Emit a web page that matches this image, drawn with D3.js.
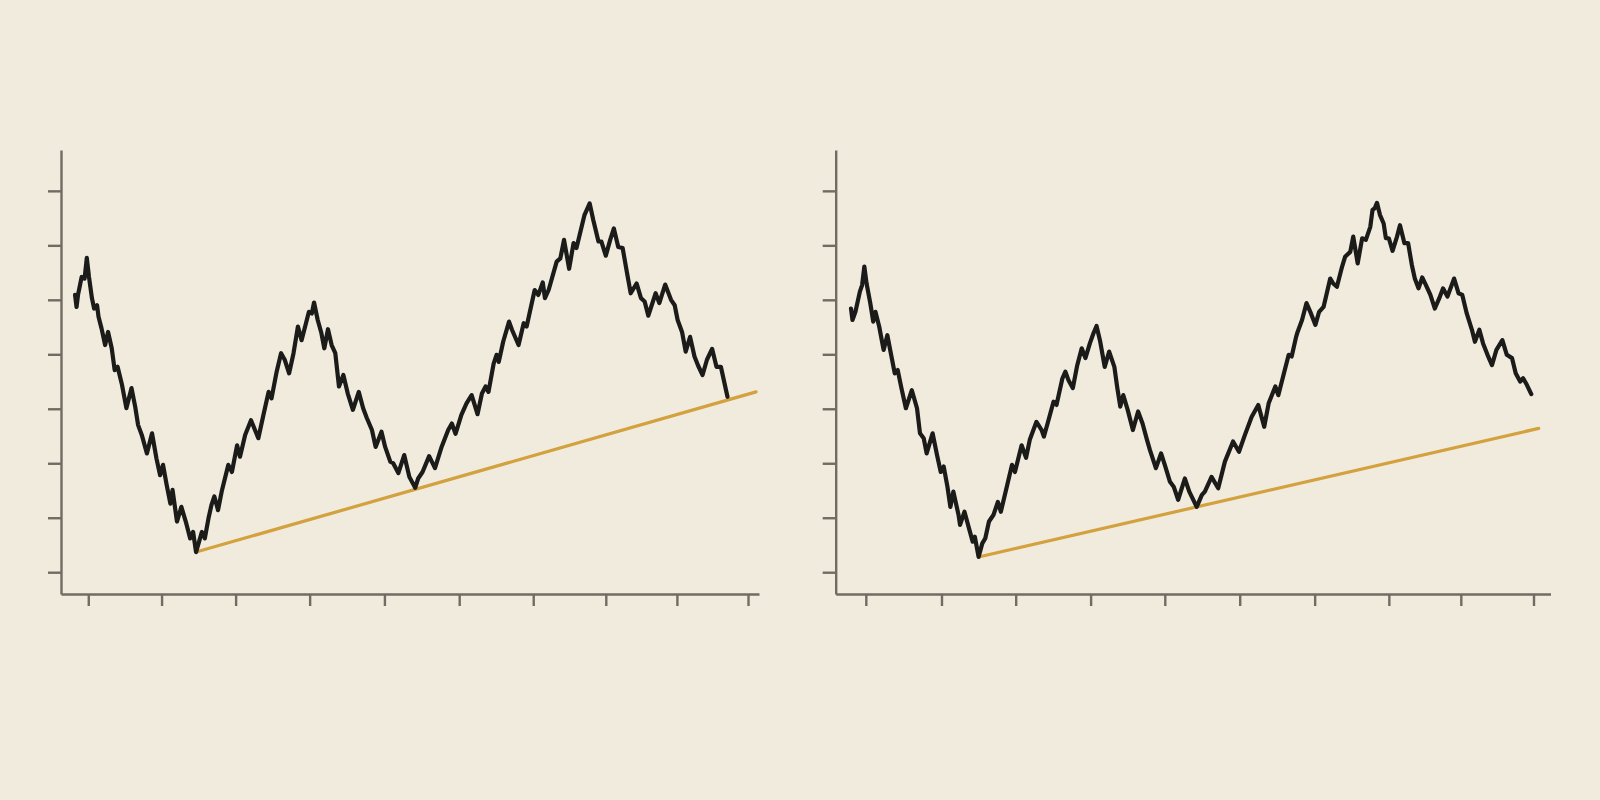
<!DOCTYPE html>
<html>
<head>
<meta charset="utf-8">
<script src="https://cdn.jsdelivr.net/npm/d3@7"></script>
<style>
  html, body { margin: 0; padding: 0; background: #f1ebde; }
  svg { display: block; }
</style>
</head>
<body>
<svg id="chart" width="1600" height="800"></svg>
<script>
// ---- data (x: time units, y: price units) ----
const leftPath = [[-1.8,70.9],[-1.6,68.7],[-1.4,70.9],[-0.9,74.2],[-0.5,73.9],[-0.2,77.7],[0.1,74.2],[0.5,70.3],[0.8,68.4],[1.2,69.0],[1.4,66.9],[1.8,64.8],[2.3,61.7],[2.7,64.1],[3.2,61.1],[3.6,57.1],[4.0,57.7],[4.6,54.4],[5.2,50.1],[5.9,53.8],[6.4,50.4],[6.8,47.0],[7.3,45.2],[8.0,41.8],[8.7,45.5],[9.3,40.9],[9.8,37.8],[10.2,39.7],[10.7,36.0],[11.2,32.6],[11.5,35.1],[12.1,29.3],[12.7,32.0],[13.3,29.3],[13.9,26.2],[14.3,27.4],[14.7,23.7],[15.5,27.4],[15.9,26.2],[16.4,29.9],[16.8,32.3],[17.2,33.9],[17.7,31.4],[18.2,34.8],[19.1,39.7],[19.6,38.4],[20.3,43.3],[20.7,41.2],[21.4,45.2],[22.2,47.9],[23.2,44.6],[23.9,48.9],[24.6,53.1],[25.0,51.9],[25.7,56.8],[26.3,60.2],[26.8,59.0],[27.4,56.5],[28.0,60.2],[28.6,65.1],[29.1,62.6],[29.7,65.7],[30.1,67.8],[30.5,67.5],[30.8,69.5],[31.3,66.3],[31.8,63.9],[32.2,61.1],[32.7,64.6],[33.2,61.7],[33.7,60.2],[34.2,54.1],[34.8,56.2],[35.4,52.8],[36.1,49.8],[36.9,53.1],[37.5,50.1],[38.0,48.3],[38.7,46.1],[39.2,43.0],[40.0,45.8],[40.5,43.0],[41.2,40.3],[41.6,40.0],[42.3,38.2],[43.1,41.5],[43.8,37.5],[44.6,35.5],[45.0,37.2],[45.6,38.4],[46.5,41.3],[47.3,39.1],[48.2,43.0],[49.1,46.1],[49.6,47.3],[50.1,45.4],[50.9,48.9],[51.6,51.0],[52.3,52.5],[53.1,49.0],[53.7,52.8],[54.2,54.1],[54.6,53.1],[55.3,58.3],[55.7,59.9],[56.0,58.6],[56.6,62.3],[57.4,66.0],[57.8,64.5],[58.7,61.7],[59.4,65.7],[59.8,65.1],[60.9,71.8],[61.4,70.9],[62.0,73.2],[62.3,70.3],[62.8,71.8],[63.9,77.0],[64.4,77.6],[64.9,81.0],[65.6,75.7],[66.2,80.4],[66.6,79.5],[67.7,85.6],[67.9,86.2],[68.4,87.7],[68.9,84.6],[69.6,80.7],[70.0,80.7],[70.6,78.1],[71.2,81.0],[71.7,83.1],[72.3,79.7],[72.9,79.5],[73.5,74.9],[74.0,71.2],[74.8,73.0],[75.4,70.3],[75.9,69.7],[76.4,67.1],[77.4,71.2],[77.9,69.4],[78.7,72.8],[79.5,70.0],[80.0,69.0],[80.4,66.3],[81.0,64.1],[81.5,60.5],[82.1,63.2],[82.7,59.6],[83.2,57.9],[83.8,56.2],[84.4,59.0],[85.1,61.0],[85.7,57.7],[86.3,57.7],[87.2,52.2]];

const rightPath = [[-2.0,68.4],[-1.8,66.3],[-1.4,67.8],[-0.8,71.5],[-0.5,72.7],[-0.2,76.1],[0.1,73.0],[0.6,69.4],[1.0,66.0],[1.3,67.8],[1.8,65.1],[2.4,60.8],[2.9,63.5],[3.5,59.3],[3.9,56.5],[4.3,57.1],[4.8,53.8],[5.4,50.1],[6.2,53.4],[6.9,50.1],[7.3,45.5],[7.8,44.6],[8.2,41.8],[9.0,45.5],[9.6,41.5],[10.1,38.4],[10.5,39.4],[11.0,35.7],[11.4,32.0],[11.8,34.8],[12.5,30.5],[12.7,28.7],[13.3,31.1],[13.9,28.1],[14.4,25.6],[14.7,26.5],[15.2,22.8],[15.7,25.3],[16.1,26.2],[16.6,29.3],[17.2,30.5],[17.8,32.9],[18.2,31.1],[18.9,35.1],[19.7,39.7],[20.1,38.4],[21.0,43.3],[21.6,41.0],[22.1,44.3],[23.0,47.6],[23.7,46.1],[24.0,44.9],[24.5,47.3],[25.3,51.3],[25.7,50.7],[26.5,55.6],[26.9,56.8],[27.3,55.3],[27.9,53.8],[28.5,58.0],[29.1,61.1],[29.6,59.3],[30.2,62.0],[30.7,63.9],[31.1,65.2],[31.6,62.3],[32.2,57.7],[32.8,60.5],[33.5,57.7],[33.9,53.8],[34.3,50.4],[34.7,52.5],[35.3,49.8],[36.0,46.1],[36.7,49.5],[37.3,47.3],[37.9,44.3],[38.3,42.4],[39.1,39.1],[39.8,41.8],[40.3,39.7],[41.0,36.6],[41.5,35.7],[42.1,33.3],[43.0,37.2],[43.6,34.8],[44.6,32.0],[45.3,34.2],[45.7,34.8],[46.6,37.5],[47.5,35.4],[48.4,40.3],[49.5,44.0],[50.3,42.1],[51.1,45.2],[52.0,48.5],[52.9,50.7],[53.7,46.7],[54.3,51.0],[55.2,54.1],[55.6,52.5],[56.3,56.2],[57.0,59.9],[57.4,59.6],[58.0,63.2],[58.2,64.1],[58.8,66.3],[59.4,69.4],[60.0,67.5],[60.6,65.4],[61.1,67.8],[61.7,68.7],[62.6,73.9],[63.0,73.0],[63.5,72.4],[64.2,76.1],[64.6,77.9],[65.3,78.8],[65.7,81.6],[66.3,76.7],[66.9,81.3],[67.4,81.0],[68.0,83.4],[68.3,86.5],[68.6,86.8],[68.9,87.8],[69.3,85.6],[69.8,84.0],[70.1,81.3],[70.5,81.3],[71.0,79.0],[71.6,81.6],[72.0,83.7],[72.6,80.4],[73.1,80.4],[73.6,76.4],[74.0,73.9],[74.5,72.1],[75.0,74.1],[75.5,72.7],[76.1,70.9],[76.7,68.4],[77.3,70.3],[77.8,72.1],[78.4,70.6],[79.3,73.9],[79.9,71.2],[80.4,70.9],[81.0,67.5],[81.7,64.5],[82.1,62.3],[82.7,64.5],[83.2,62.0],[83.8,59.9],[84.4,58.0],[85.0,60.8],[85.8,62.6],[86.4,59.9],[87.1,59.3],[87.6,56.5],[88.2,55.0],[88.6,55.6],[89.1,54.4],[89.7,52.7]];

const leftTrend  = [[14.7,23.7],[91.1,53.1]];
const rightTrend = [[15.2,22.8],[90.7,46.4]];

const yTicks = [20, 30, 40, 50, 60, 70, 80, 90];
const xTicksLeft  = [0, 10.0, 20.1, 30.2, 40.4, 50.6, 60.7, 70.6, 80.3, 90.0];
const xTicksRight = [0, 10.2, 20.2, 30.3, 40.3, 50.4, 60.5, 70.5, 80.2, 90.0];

// ---- layout / style ----
const svg = d3.select("#chart");
const yDomain = [16, 97.5];
const plotTop = 150, plotBottom = 594;
const axisColor = "#706c63";
const lineColor = "#1b1b19";
const trendColor = "#d3a13e";

const panels = [
  { path: leftPath,  trend: leftTrend,  xTicks: xTicksLeft,  xDomain: [-3.72, 91.5],  range: [61, 759] },
  { path: rightPath, trend: rightTrend, xTicks: xTicksRight, xDomain: [-4.06, 92.29], range: [835.7, 1550.5] }
];

panels.forEach(p => {
  const x = d3.scaleLinear().domain(p.xDomain).range(p.range);
  const y = d3.scaleLinear().domain(yDomain).range([plotBottom, plotTop]);
  const g = svg.append("g");

  const yAxis = g.append("g")
    .attr("transform", `translate(${p.range[0]},0)`)
    .call(d3.axisLeft(y).tickValues(yTicks).tickSize(13).tickSizeOuter(0).tickFormat(""));
  const xAxis = g.append("g")
    .attr("transform", `translate(0,${plotBottom})`)
    .call(d3.axisBottom(x).tickValues(p.xTicks).tickSize(12).tickSizeOuter(0).tickFormat(""));
  [yAxis, xAxis].forEach(a => {
    a.select(".domain").attr("stroke", axisColor).attr("stroke-width", 2.4);
    a.selectAll(".tick line").attr("stroke", axisColor).attr("stroke-width", 2.4);
  });

  const line = d3.line().x(d => x(d[0])).y(d => y(d[1]));

  g.append("path")
    .datum(p.trend)
    .attr("d", line)
    .attr("fill", "none")
    .attr("stroke", trendColor)
    .attr("stroke-width", 3.2)
    .attr("stroke-linecap", "round");

  g.append("path")
    .datum(p.path)
    .attr("d", line)
    .attr("fill", "none")
    .attr("stroke", lineColor)
    .attr("stroke-width", 4.2)
    .attr("stroke-linejoin", "round")
    .attr("stroke-linecap", "round");
});
</script>
</body>
</html>
